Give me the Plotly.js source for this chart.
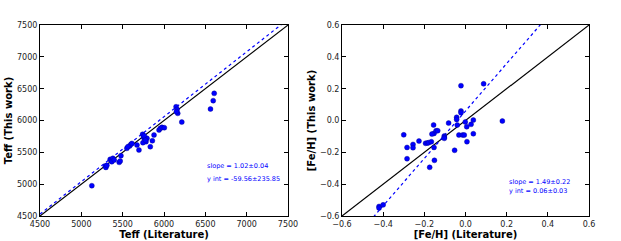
<!DOCTYPE html>
<html><head><meta charset="utf-8">
<script src="https://cdn.plot.ly/plotly-3.0.1.min.js"></script>
<style>html,body{margin:0;padding:0;background:#fff}#plot{width:621px;height:241px}</style>
</head><body><div id="plot"></div>
<script>
// Teff panel
const teffLit  = [5127,5289,5297,5309,5349,5361,5382,5369,5398,5458,5470,5479,5551,5584,5600,5612,5563,5673,5697,5741,5754,5766,5782,5745,5794,5760,5775,5834,5859,5879,5940,5956,5976,6004,6146,6158,6166,6150,6215,6562,6595,6607];
const teffThis = [4976,5285,5264,5296,5390,5369,5406,5353,5380,5343,5364,5448,5563,5600,5626,5641,5589,5615,5537,5783,5736,5704,5668,5652,5720,5760,5690,5589,5683,5772,5851,5877,5893,5887,6217,6175,6113,6139,5976,6181,6312,6427];
const teffRange = [4500,7500];
const teffFit = {slope:1.02, intercept:-59.56};
const teffText = ["slope = 1.02\u00b10.04","y int = -59.56\u00b1235.85"];
// [Fe/H] panel
const fehLit  = [-0.42,-0.42,-0.40,-0.30,-0.284,-0.284,-0.255,-0.255,-0.226,-0.194,-0.185,-0.179,-0.166,-0.155,-0.153,-0.143,-0.135,-0.163,-0.153,-0.151,-0.174,-0.103,-0.103,-0.103,-0.082,-0.053,-0.043,-0.043,-0.040,-0.022,-0.022,-0.022,-0.032,-0.014,-0.006,-0.001,0.006,0.007,0.027,0.038,0.038,0.088,0.179];
const fehThis = [-0.54,-0.55,-0.53,-0.09,-0.169,-0.24,-0.150,-0.171,-0.129,-0.143,-0.141,-0.139,-0.133,-0.028,-0.081,-0.064,-0.064,-0.085,-0.169,-0.25,-0.294,-0.097,-0.105,-0.112,-0.016,-0.187,0.02,0.007,-0.028,0.219,0.06,0.049,-0.091,-0.091,-0.091,-0.009,-0.039,-0.133,-0.024,0.003,-0.083,0.231,-0.003];
const fehRange = [-0.6,0.6];
const fehFit = {slope:1.49, intercept:0.06};
const fehText = ["slope = 1.49\u00b10.22","y int = 0.06\u00b10.03"];

function fitLine(r, f){ return {x:r, y:r.map(v=>f.slope*v+f.intercept)}; }
const tf = fitLine(teffRange, teffFit), ff = fitLine(fehRange, fehFit);
const blue = '#0000ff';
const traces = [
  {x:teffRange, y:teffRange, mode:'lines', line:{color:'#000',width:1.2}, xaxis:'x', yaxis:'y', hoverinfo:'skip'},
  {x:tf.x, y:tf.y, mode:'lines', line:{color:blue,width:1.2,dash:'3px,3px'}, xaxis:'x', yaxis:'y'},
  {x:teffLit, y:teffThis, mode:'markers', marker:{color:blue,size:5,line:{color:'#00008b',width:0.4}}, xaxis:'x', yaxis:'y', cliponaxis:false},
  {x:fehRange, y:fehRange, mode:'lines', line:{color:'#000',width:1.2}, xaxis:'x2', yaxis:'y2'},
  {x:ff.x, y:ff.y, mode:'lines', line:{color:blue,width:1.2,dash:'3px,3px'}, xaxis:'x2', yaxis:'y2'},
  {x:fehLit, y:fehThis, mode:'markers', marker:{color:blue,size:5,line:{color:'#00008b',width:0.4}}, xaxis:'x2', yaxis:'y2'}
];
const tickFont = {family:'DejaVu Sans', size:8, color:'#222'};
const titleFont = {family:'DejaVu Sans', size:10, color:'#000', weight:'bold'};
function ax(extra){
  return Object.assign({showgrid:false, zeroline:false, showline:true, linecolor:'#000', linewidth:1, mirror:'allticks',
    ticks:'inside', ticklen:4, tickcolor:'#000', tickfont:tickFont, automargin:false}, extra);
}
const annFont = {family:'DejaVu Sans',size:6.5,color:blue};
const layout = {
  width:621, height:241, showlegend:false, paper_bgcolor:'#fff', plot_bgcolor:'#fff',
  margin:{l:0,r:0,t:0,b:0},
  xaxis: ax({domain:[0.0644,0.4638], range:teffRange, tickvals:[4500,5000,5500,6000,6500,7000,7500], title:{text:'Teff (Literature)', font:titleFont, standoff:2}}),
  yaxis: ax({domain:[0.1037,0.896], range:teffRange, tickvals:[4500,5000,5500,6000,6500,7000,7500], title:{text:'Teff (This work)', font:titleFont, standoff:2}}),
  xaxis2: ax({domain:[0.5507,0.9485], range:fehRange, anchor:'y2', tickvals:[-0.6,-0.4,-0.2,0,0.2,0.4,0.6], ticktext:['\u22120.6','\u22120.4','\u22120.2','0.0','0.2','0.4','0.6'], title:{text:'[Fe/H] (Literature)', font:titleFont, standoff:2}}),
  yaxis2: ax({domain:[0.1037,0.896], range:fehRange, anchor:'x2', tickvals:[-0.6,-0.4,-0.2,0,0.2,0.4,0.6], ticktext:['\u22120.6','\u22120.4','\u22120.2','0.0','0.2','0.4','0.6'], title:{text:'[Fe/H] (This work)', font:titleFont, standoff:2}}),
  annotations:[
    {text:teffText[0], xref:'x', yref:'y', x:6500, y:5285, xanchor:'left', yanchor:'middle', showarrow:false, font:annFont},
    {text:teffText[1], xref:'x', yref:'y', x:6500, y:5081, xanchor:'left', yanchor:'middle', showarrow:false, font:annFont},
    {text:fehText[0], xref:'x2', yref:'y2', x:0.2, y:-0.386, xanchor:'left', yanchor:'middle', showarrow:false, font:annFont},
    {text:fehText[1], xref:'x2', yref:'y2', x:0.2, y:-0.443, xanchor:'left', yanchor:'middle', showarrow:false, font:annFont}
  ]
};
Plotly.newPlot('plot', traces, layout, {staticPlot:true, displayModeBar:false});
</script></body></html>
